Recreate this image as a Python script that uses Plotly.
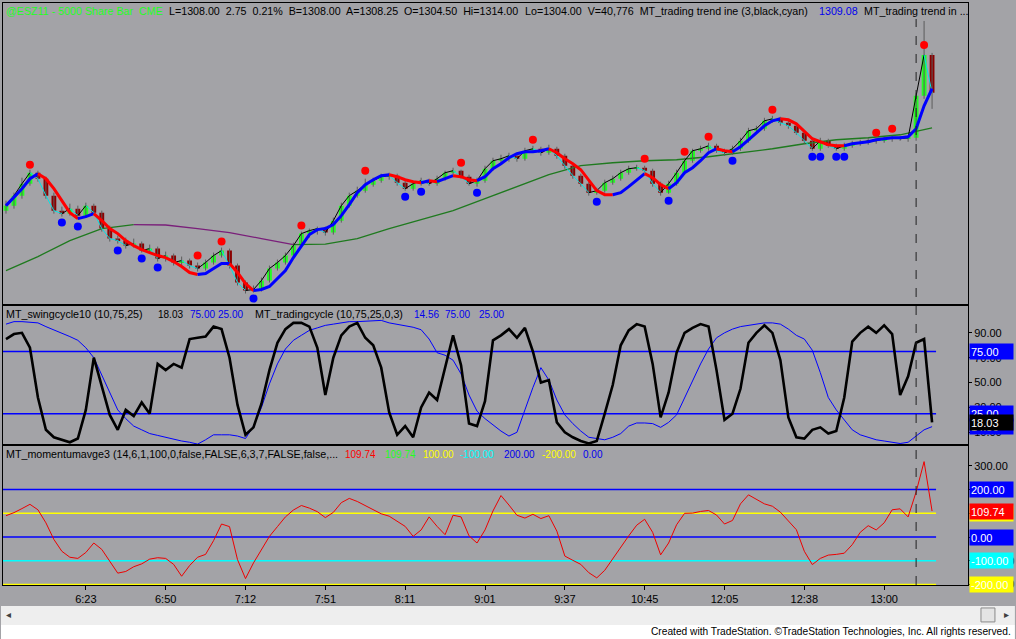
import plotly.graph_objects as go
from plotly.subplots import make_subplots

# ---------------- data (5000 share bars, @ES) ----------------
bar_idx = list(range(117))

opens = [1278.5, 1279.75, 1282.25, 1285.25, 1288.0, 1286.5, 1282.25, 1278.5, 1277.75, 1279.0,
         1277.25, 1279.75, 1278.0, 1274.0, 1271.5, 1271.0, 1269.75, 1270.25, 1268.5, 1269.0,
         1266.5, 1267.25, 1265.5, 1266.0, 1264.75, 1264.0, 1265.5, 1267.25, 1268.5, 1264.75,
         1260.5, 1258.5, 1258.75, 1261.0, 1264.0, 1265.5, 1267.25, 1269.75, 1272.75, 1273.5,
         1274.0, 1273.0, 1276.0, 1279.75, 1282.25, 1283.5, 1285.0, 1286.0, 1287.0, 1287.25,
         1285.5, 1284.0, 1285.25, 1286.0, 1285.25, 1286.5, 1288.0, 1288.5, 1287.0, 1285.25,
         1286.0, 1289.0, 1291.0, 1291.5, 1292.25, 1291.5, 1293.5, 1294.0, 1293.0, 1294.0,
         1292.25, 1289.75, 1287.25, 1285.25, 1283.0, 1283.5, 1285.5, 1286.5, 1288.0, 1289.0,
         1289.25, 1288.5, 1285.25, 1283.0, 1285.25, 1288.0, 1291.0, 1293.5, 1294.0, 1294.75,
         1293.5, 1293.0, 1294.0, 1296.0, 1298.5, 1299.0, 1301.0, 1301.5, 1300.5, 1299.75,
         1298.0, 1296.0, 1294.0, 1296.0, 1294.75, 1294.0, 1294.75, 1295.25, 1295.5, 1296.0,
         1296.0, 1296.5, 1296.75, 1296.5, 1296.75, 1307.25, 1317.5]
highs = [1281.0, 1283.0, 1286.75, 1288.75, 1288.5, 1287.0, 1283.0, 1279.5, 1280.25, 1279.75,
         1280.5, 1280.25, 1278.5, 1274.75, 1272.25, 1271.75, 1271.5, 1270.75, 1270.0, 1269.5,
         1268.25, 1267.75, 1267.0, 1266.5, 1265.5, 1266.25, 1268.0, 1269.25, 1269.0, 1265.25,
         1261.0, 1259.75, 1261.75, 1264.75, 1266.25, 1268.0, 1270.5, 1273.25, 1274.0, 1274.5,
         1274.5, 1276.75, 1280.5, 1283.0, 1284.5, 1286.5, 1286.75, 1287.75, 1288.0, 1287.75,
         1286.0, 1286.0, 1286.75, 1286.5, 1287.25, 1288.5, 1289.25, 1288.75, 1287.5, 1286.75,
         1289.75, 1291.75, 1292.5, 1293.0, 1292.75, 1294.25, 1294.75, 1294.5, 1295.0, 1294.5,
         1292.75, 1290.25, 1287.75, 1285.75, 1284.25, 1286.25, 1287.25, 1288.75, 1289.75, 1290.0,
         1289.75, 1289.0, 1285.75, 1286.0, 1288.75, 1291.75, 1294.0, 1294.75, 1295.5, 1295.25,
         1294.0, 1294.75, 1296.75, 1299.25, 1299.75, 1301.75, 1302.25, 1302.0, 1301.0, 1300.25,
         1298.5, 1296.5, 1296.75, 1296.5, 1295.25, 1295.5, 1296.0, 1296.25, 1296.75, 1296.5,
         1297.0, 1297.25, 1297.25, 1297.25, 1308.0, 1326.0, 1318.0]
lows = [1277.75, 1279.0, 1281.5, 1284.75, 1285.75, 1281.5, 1277.75, 1277.0, 1277.25, 1276.25,
        1276.75, 1277.5, 1273.25, 1270.75, 1270.25, 1269.0, 1269.25, 1268.0, 1267.75, 1265.75,
        1265.75, 1264.75, 1264.75, 1264.0, 1263.25, 1263.5, 1265.0, 1266.75, 1264.0, 1259.75,
        1257.75, 1258.0, 1258.25, 1260.5, 1263.5, 1265.0, 1266.75, 1269.25, 1271.75, 1272.5,
        1272.25, 1272.5, 1275.5, 1279.25, 1281.75, 1283.0, 1284.5, 1285.5, 1286.25, 1284.75,
        1283.5, 1283.5, 1284.75, 1284.75, 1284.75, 1286.0, 1287.5, 1286.5, 1284.75, 1284.5,
        1285.5, 1288.5, 1290.25, 1290.75, 1290.75, 1291.0, 1293.0, 1292.25, 1292.5, 1291.5,
        1289.0, 1286.5, 1284.5, 1282.25, 1282.5, 1283.0, 1285.0, 1286.0, 1287.5, 1288.5,
        1288.0, 1284.5, 1282.25, 1282.75, 1284.75, 1287.5, 1290.5, 1293.0, 1293.5, 1293.0,
        1292.25, 1292.5, 1293.5, 1295.5, 1297.75, 1298.5, 1300.5, 1299.75, 1299.0, 1297.5,
        1295.25, 1293.5, 1293.5, 1294.25, 1293.5, 1293.5, 1294.25, 1294.75, 1295.0, 1295.25,
        1295.5, 1295.75, 1296.0, 1295.75, 1296.0, 1306.5, 1304.0]
closes = [1279.75, 1282.25, 1285.25, 1288.0, 1286.5, 1282.25, 1278.5, 1277.75, 1279.0, 1277.25,
          1279.75, 1278.0, 1274.0, 1271.5, 1271.0, 1269.75, 1270.25, 1268.5, 1269.0, 1266.5,
          1267.25, 1265.5, 1266.0, 1264.75, 1264.0, 1265.5, 1267.25, 1268.5, 1264.75, 1260.5,
          1258.5, 1258.75, 1261.0, 1264.0, 1265.5, 1267.25, 1269.75, 1272.75, 1273.5, 1274.0,
          1273.0, 1276.0, 1279.75, 1282.25, 1283.5, 1285.0, 1286.0, 1287.0, 1287.25, 1285.5,
          1284.0, 1285.25, 1286.0, 1285.25, 1286.5, 1288.0, 1288.5, 1287.0, 1285.25, 1286.0,
          1289.0, 1291.0, 1291.5, 1292.25, 1291.5, 1293.5, 1294.0, 1293.0, 1294.0, 1292.25,
          1289.75, 1287.25, 1285.25, 1283.0, 1283.5, 1285.5, 1286.5, 1288.0, 1289.0, 1289.25,
          1288.5, 1285.25, 1283.0, 1285.25, 1288.0, 1291.0, 1293.5, 1294.0, 1294.75, 1293.5,
          1293.0, 1294.0, 1296.0, 1298.5, 1299.0, 1301.0, 1301.5, 1300.5, 1299.75, 1298.0,
          1296.0, 1294.0, 1296.0, 1294.75, 1294.0, 1294.75, 1295.25, 1295.5, 1296.0, 1296.0,
          1296.5, 1296.75, 1296.5, 1296.75, 1307.25, 1317.5, 1308.0]

# MT_trading trend line (thick, blue up / red down)
trend_line = [1279.75, 1281.75, 1284.0, 1286.5, 1287.75, 1286.5, 1284.0, 1281.0, 1278.0, 1276.5,
              1277.0, 1277.75, 1276.0, 1274.0, 1272.75, 1271.0, 1269.75, 1268.75, 1268.0, 1267.25,
              1266.75, 1265.75, 1264.5, 1263.0, 1262.5, 1262.75, 1264.0, 1265.25, 1265.25, 1263.0,
              1260.25, 1258.5, 1258.75, 1259.5, 1261.5, 1263.5, 1266.75, 1269.5, 1272.5, 1273.75,
              1274.0, 1275.0, 1277.25, 1280.0, 1283.0, 1285.0, 1286.25, 1287.25, 1287.5, 1287.0,
              1286.25, 1285.75, 1285.5, 1286.0, 1285.75, 1286.5, 1287.25, 1287.0, 1286.25, 1286.0,
              1287.0, 1289.0, 1290.25, 1291.75, 1292.75, 1293.25, 1293.25, 1293.5, 1294.0, 1293.0,
              1291.5, 1290.25, 1288.75, 1286.0, 1283.5, 1282.5, 1282.5, 1283.0, 1284.5, 1286.25,
              1287.75, 1286.75, 1285.0, 1284.0, 1285.5, 1288.0, 1289.25, 1291.0, 1293.0, 1294.0,
              1293.5, 1293.25, 1294.5, 1296.25, 1298.0, 1299.75, 1301.0, 1301.5, 1301.25, 1300.25,
              1298.25, 1296.5, 1295.75, 1295.0, 1294.75, 1294.75, 1295.25, 1295.5, 1295.75, 1296.25,
              1296.5, 1296.75, 1296.75, 1297.0, 1299.0, 1304.75, 1309.08]

# slow average (green up / purple down), one value every 4 bars
slow_idx = list(range(0, 117, 4))
slow_avg = [1263.5, 1267.0, 1271.0, 1274.0, 1275.0, 1274.9, 1274.0, 1273.0, 1271.5, 1270.0,
            1270.1, 1271.5, 1274.0, 1276.25, 1278.5, 1281.5, 1284.5, 1287.5, 1289.75, 1290.5,
            1291.0, 1291.25, 1292.0, 1293.0, 1294.0, 1295.25, 1296.25, 1296.75, 1297.5, 1299.25]

swing_high_idx = [3, 24, 27, 37, 45, 57, 66, 80, 85, 88, 96, 109, 111, 115]
swing_high_px = [1290.0, 1267.25, 1270.75, 1274.75, 1288.5, 1290.5, 1296.25, 1291.5, 1293.25,
                 1297.0, 1303.75, 1298.0, 1299.0, 1320.0]
swing_low_idx = [7, 9, 14, 17, 19, 31, 50, 52, 59, 74, 83, 91, 101, 102, 104, 105]
swing_low_px = [1275.5, 1274.5, 1268.5, 1266.5, 1264.25, 1256.5, 1282.0, 1283.25, 1283.0,
                1280.75, 1281.0, 1291.0, 1292.0, 1292.0, 1292.0, 1292.0]

swing_cycle = [85, 89, 90, 78, 38, 12, 6, 4, 2, 5,
               28, 70, 46, 24, 12, 28, 23, 34, 25, 65,
               60, 65, 62, 85, 86, 87, 95, 93, 70, 32,
               8, 14, 33, 60, 82, 93, 98, 98, 95, 78,
               40, 70, 88, 95, 98, 86, 80, 62, 26, 8,
               15, 6, 30, 42, 36, 62, 88, 64, 17, 15,
               35, 84, 88, 93, 86, 94, 75, 50, 52, 18,
               10, 6, 3, 1, 3, 25, 48, 80, 92, 97,
               95, 65, 22, 42, 74, 90, 94, 97, 95, 60,
               20, 25, 45, 82, 90, 96, 90, 68, 22, 6,
               5, 12, 14, 9, 11, 38, 83, 90, 95, 90,
               96, 89, 40, 55, 82, 85, 18.03]
trading_cycle = [97, 99, 99, 98.5, 98, 95, 92.5, 90, 87, 84,
                 78, 70, 56, 41, 28, 21, 15, 12, 9, 7.5,
                 6, 4, 3, 2, 0.5, 4, 8, 8, 8, 7,
                 5, 15, 30, 49, 65, 77, 84, 88, 92, 94,
                 96, 97, 98, 99, 99, 99.5, 100, 100, 98, 97,
                 96, 94.5, 92.5, 85, 74, 72, 68, 57, 40, 27,
                 21, 16, 11, 7, 10, 28, 46, 62, 52, 36,
                 24, 17, 11, 6, 5, 4, 6, 9, 15, 17.5,
                 17.5, 17, 14, 18, 24, 38, 52, 65, 77, 86,
                 90, 93, 95, 96, 97, 98, 98, 97, 93, 88,
                 85, 76, 58, 38, 28, 20, 12, 8, 6, 4,
                 3, 2, 1, 2, 7, 12, 14.56]
swing_levels = [75, 25]

momentum = [90, 103, 120, 138, 115, 60, -10, -60, -85, -90,
            -65, -25, -52, -100, -152, -145, -125, -113, -93, -87,
            -90, -115, -165, -120, -85, -73, -15, 55, 44, -95,
            -175, -109, -50, 3, 44, 85, 114, 133, 122, 107,
            82, 104, 145, 163, 150, 133, 118, 98, 88, 65,
            45, 3, 30, 85, 45, 10, 92, 85, 5, -25,
            30, 110, 175, 135, 92, 80, 96, 78, 90, 25,
            -80, -98, -115, -150, -172, -140, -90, -45, 5, 50,
            75, 20, -75, -25, 52, 100, 101, 108, 112, 93,
            55, 70, 140, 178, 158, 140, 130, 105, 68, 31,
            -60, -116, -90, -76, -73, -68, -32, 20, 48, 30,
            60, 115, 119, 85, 190, 318, 109.74]
mom_levels = [200, 100, 0, -100, -200]
mom_level_colors = ['#0000ff', '#ffff00', '#0000ff', '#00ffff', '#ffff00']

tick_idx = [10, 20, 30, 40, 50, 60, 70, 80, 90, 100, 110]
tick_text = ['6:23', '6:50', '7:12', '7:51', '8:11', '9:01', '9:37', '10:45', '12:05', '12:38', '13:00']

for arr in (opens, highs, lows, closes, trend_line, swing_cycle, trading_cycle, momentum):
    assert len(arr) == len(bar_idx), len(arr)
assert len(slow_avg) == len(slow_idx)

# ---------------- figure ----------------
BG = '#a3a3a7'
FONT = 'Liberation Sans, Arial, sans-serif'
W, H = 1016, 639
ML, MR, MT, MB = 2, 47, 2, 54


def px_x(X):
    return (X - ML) / (W - ML - MR)


def px_y(Y):
    return (H - MB - Y) / (H - MT - MB)


def runs_by_slope(xs, ys, up_col, dn_col):
    runs, cur = [], None
    rx, ry = [xs[0]], [ys[0]]
    for i in range(1, len(xs)):
        if ys[i] > ys[i - 1]:
            c = up_col
        elif ys[i] < ys[i - 1]:
            c = dn_col
        else:
            c = cur or up_col
        if cur is None:
            cur = c
        if c != cur:
            runs.append((cur, rx, ry))
            rx, ry = [xs[i - 1]], [ys[i - 1]]
            cur = c
        rx.append(xs[i])
        ry.append(ys[i])
    runs.append((cur, rx, ry))
    return runs


fig = make_subplots(rows=3, cols=1, shared_xaxes=True, vertical_spacing=0,
                    row_heights=[303, 140, 140])

# slow average
for col, rx, ry in runs_by_slope(slow_idx, slow_avg, '#1f7a1f', '#7a1f7a'):
    fig.add_trace(go.Scatter(x=rx, y=ry, mode='lines', line=dict(color=col, width=1.3),
                             hoverinfo='skip'), row=1, col=1)

# candles: wicks + bodies
wx, wy = [], []
for j, lo, hi in zip(bar_idx, lows, highs):
    wx += [j, j, None]
    wy += [lo, hi, None]
fig.add_trace(go.Scatter(x=wx, y=wy, mode='lines', line=dict(color='#5c5c5c', width=1),
                         hoverinfo='skip'), row=1, col=1)
body_base = [min(o, c) for o, c in zip(opens, closes)]
body_len = [abs(c - o) for o, c in zip(opens, closes)]
body_col = ['#22ff22' if c >= o else '#8b0000' for o, c in zip(opens, closes)]
fig.add_trace(go.Bar(x=bar_idx, y=body_len, base=body_base, width=0.6,
                     marker=dict(color=body_col, line=dict(width=0))), row=1, col=1)

# thin fast line
for col, rx, ry in runs_by_slope(bar_idx, closes, '#000000', '#00e5e5'):
    fig.add_trace(go.Scatter(x=rx, y=ry, mode='lines', line=dict(color=col, width=1),
                             hoverinfo='skip'), row=1, col=1)

# thick trend line
for col, rx, ry in runs_by_slope(bar_idx, trend_line, '#0000ff', '#ff0000'):
    fig.add_trace(go.Scatter(x=rx, y=ry, mode='lines', line=dict(color=col, width=3),
                             hoverinfo='skip'), row=1, col=1)

fig.add_trace(go.Scatter(x=swing_high_idx, y=swing_high_px, mode='markers',
                         marker=dict(color='#ff0000', size=8)), row=1, col=1)
fig.add_trace(go.Scatter(x=swing_low_idx, y=swing_low_px, mode='markers',
                         marker=dict(color='#0000ff', size=8)), row=1, col=1)

# swing / trading cycle panel
fig.add_trace(go.Scatter(x=bar_idx, y=trading_cycle, mode='lines',
                         line=dict(color='#0000ff', width=1)), row=2, col=1)
fig.add_trace(go.Scatter(x=bar_idx, y=swing_cycle, mode='lines',
                         line=dict(color='#000000', width=2.6)), row=2, col=1)

# momentum panel
fig.add_trace(go.Scatter(x=bar_idx, y=momentum, mode='lines',
                         line=dict(color='#ee0000', width=1)), row=3, col=1)

x_end = bar_idx[-1] + 0.5
x_start = -0.375
for lv in swing_levels:
    fig.add_shape(type='line', xref='x2', yref='y2', x0=x_start, x1=x_end, y0=lv, y1=lv,
                  line=dict(color='#0000ff', width=1.5), layer='below')
for lv, col in zip(mom_levels, mom_level_colors):
    fig.add_shape(type='line', xref='x3', yref='y3', x0=x_start, x1=x_end, y0=lv, y1=lv,
                  line=dict(color=col, width=1.5), layer='below')

# dashed marker line through all panels
fig.add_shape(type='line', xref='x', yref='paper', x0=114, x1=114, y0=0, y1=px_y(18),
              line=dict(color='#222222', width=1, dash='dash'))

# scrollbar + footer area
fig.add_shape(type='rect', xref='paper', yref='paper', x0=px_x(0), x1=px_x(1016),
              y0=px_y(606), y1=px_y(625), fillcolor='#eeeeee', line=dict(width=0))
fig.add_shape(type='rect', xref='paper', yref='paper', x0=px_x(0), x1=px_x(1016),
              y0=px_y(625), y1=px_y(640), fillcolor='#ffffff', line=dict(width=0))
fig.add_shape(type='rect', xref='paper', yref='paper', x0=px_x(982), x1=px_x(996),
              y0=px_y(608), y1=px_y(622), fillcolor='#e4e4e4', line=dict(color='#8a8a8a', width=1))

fig.update_xaxes(range=[x_start, 120.5], showgrid=False, zeroline=False, showline=True,
                 mirror=True, linecolor='#000000', linewidth=1, ticks='', showticklabels=False)
fig.update_xaxes(row=3, col=1, showticklabels=True, tickvals=tick_idx, ticktext=tick_text,
                 ticks='outside', ticklen=4, tickcolor='#000000',
                 tickfont=dict(family=FONT, size=11, color='#000000'))
fig.update_yaxes(showgrid=False, zeroline=False, showline=True, mirror=True,
                 linecolor='#000000', linewidth=1, side='right')
fig.update_yaxes(row=1, col=1, range=[1254.75, 1330.5], showticklabels=False, ticks='')
fig.update_yaxes(row=2, col=1, range=[-0.4, 112], tickvals=[10, 30, 50, 70, 90],
                 tickformat='.2f', ticks='outside', ticklen=3, tickcolor='#000000',
                 tickfont=dict(family=FONT, size=11, color='#000000'))
fig.update_yaxes(row=3, col=1, range=[-202, 387], tickvals=[-200, -100, 0, 100, 200, 300],
                 tickformat='.2f', ticks='outside', ticklen=3, tickcolor='#000000',
                 tickfont=dict(family=FONT, size=11, color='#000000'))


def label(X, Y, text, color, size=10.7):
    fig.add_annotation(xref='paper', yref='paper', x=px_x(X), y=px_y(Y), text=text,
                       showarrow=False, xanchor='left', yanchor='middle',
                       font=dict(family=FONT, size=size, color=color))


def value_box(yref, val, text, bg, fg='#ffffff'):
    fig.add_annotation(xref='paper', yref=yref, x=px_x(970), y=val, text=text,
                       showarrow=False, xanchor='left', yanchor='middle', align='left',
                       width=41, height=13, borderpad=1, bgcolor=bg,
                       font=dict(family=FONT, size=11, color=fg))


# headers
label(3, 10, '@ESZ11 - 5000 Share Bar  CME', '#22ff22')
label(166, 10, 'L=1308.00  2.75  0.21%  B=1308.00  A=1308.25  O=1304.50  Hi=1314.00', '#000000')
label(523, 10, 'Lo=1304.00  V=40,776  MT_trading trend ine (3,black,cyan)', '#000000')
label(818, 10, '1309.08', '#0000ee')
label(863, 10, 'MT_trading trend in ...', '#000000')

label(3, 314, 'MT_swingcycle10 (10,75,25)', '#000000')
label(155, 314, '18.03', '#000000', 10)
label(187, 314, '75.00', '#0000ee', 10)
label(215, 314, '25.00', '#0000ee', 10)
label(253, 314, 'MT_tradingcycle (10,75,25,0,3)', '#000000')
label(412, 314, '14.56', '#0000ee', 10)
label(443, 314, '75.00', '#0000ee', 10)
label(477, 314, '25.00', '#0000ee', 10)

label(3, 454, 'MT_momentumavge3 (14,6,1,100,0,false,FALSE,6,3,7,FALSE,false,...', '#000000')
label(343, 454, '109.74', '#ff0000', 10)
label(383, 454, '109.74', '#22ff22', 10)
label(421, 454, '100.00', '#ffff00', 10)
label(458, 454, '-100.00', '#00ffff', 10)
label(502, 454, '200.00', '#0000ee', 10)
label(540, 454, '-200.00', '#ffff00', 10)
label(581, 454, '0.00', '#0000ee', 10)

# right-hand value boxes
value_box('y2', 75, '75.00', '#0000ff')
value_box('y2', 25, '25.00', '#0000ff')
value_box('y2', 14.56, '14.56', '#0000ff')
value_box('y2', 18.03, '18.03', '#000000')
value_box('y3', 200, '200.00', '#0000ff')
value_box('y3', 100, '100.00', '#ffff00')
value_box('y3', 109.74, '109.74', '#ff0000')
value_box('y3', 0, '0.00', '#0000ff')
value_box('y3', -100, '-100.00', '#00ffff')
value_box('y3', -200, '-200.00', '#ffff00')

# scrollbar arrows and footer
label(3, 615, '\u25c2', '#404040', size=10)
fig.add_annotation(xref='paper', yref='paper', x=px_x(1012), y=px_y(615), text='\u25b8',
                   showarrow=False, xanchor='right', yanchor='middle',
                   font=dict(family=FONT, size=10, color='#404040'))
fig.add_annotation(xref='paper', yref='paper', x=px_x(1014), y=px_y(632),
                   text='Created with TradeStation. \u00a9TradeStation Technologies, Inc. All rights reserved.',
                   showarrow=False, xanchor='right', yanchor='middle',
                   font=dict(family=FONT, size=10.2, color='#000000'))

fig.update_layout(width=W, height=H, margin=dict(l=ML, r=MR, t=MT, b=MB),
                  paper_bgcolor=BG, plot_bgcolor=BG, showlegend=False,
                  barmode='overlay', hovermode=False)

# page body has a default 8px margin; drop it so the chart sits at the window corner
fig.write_html('out.html', config={'displayModeBar': False},
               post_script="document.body.style.margin='0';document.body.style.overflow='hidden';")
